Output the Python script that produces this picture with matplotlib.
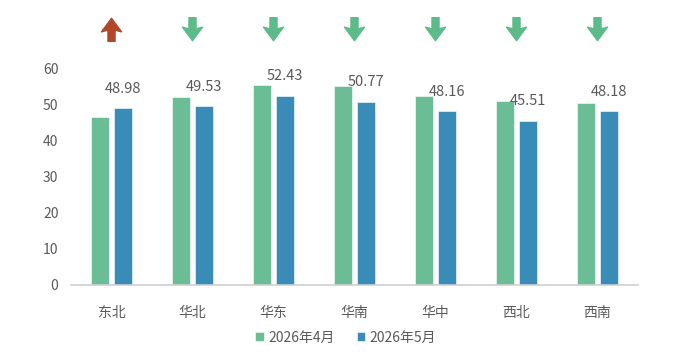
import numpy as np
import matplotlib
matplotlib.use('Agg')
from matplotlib import pyplot as plt
from matplotlib.path import Path

plt.rcParams['font.family'] = ['Noto Sans CJK SC', 'DejaVu Sans']

regions = ['东北', '华北', '华东', '华南', '华中', '西北', '西南']
apr = [46.6, 52.2, 55.5, 55.2, 52.4, 51.1, 50.5]
may = [48.98, 49.53, 52.43, 50.77, 48.16, 45.51, 48.18]
series_names = ['2026年4月', '2026年5月']

green = '#6BBD95'
blue = '#3A8CB8'
arrow_green = '#5DBB8A'
arrow_red = '#B0472B'
text_gray = '#595959'

# block arrow markers (wide head, narrow shaft)
up_arrow = Path([(-0.3, -1.0), (0.3, -1.0), (0.3, -0.05), (0.85, -0.2), (0, 0.95),
                 (-0.85, -0.2), (-0.3, -0.05), (-0.3, -1.0)],
                [Path.MOVETO] + [Path.LINETO] * 6 + [Path.CLOSEPOLY])
down_arrow = Path([(x, -y) for x, y in up_arrow.vertices], up_arrow.codes)

fig = plt.figure(figsize=(6.91, 3.57), dpi=100)
ax = fig.add_axes([0.1027, 0.2017, 0.8203, 0.6065])

x = np.arange(len(regions))
w = 0.22
off = 0.14
ax.bar(x - off, apr, w, color=green, edgecolor='white', linewidth=0.4, label=series_names[0])
ax.bar(x + off, may, w, color=blue, edgecolor='white', linewidth=0.4, label=series_names[1])

for xi, v in zip(x, may):
    ax.annotate(f'{v:.2f}', (xi + off, v), xytext=(0, 9), textcoords='offset points',
                ha='center', va='bottom', fontsize=10.5, color=text_gray)

# change arrows above each region
for xi, a, m in zip(x, apr, may):
    up = m > a
    ax.plot(xi, 70.9, marker=up_arrow if up else down_arrow, markersize=17,
            color=arrow_red if up else arrow_green, clip_on=False, linestyle='none')

ax.set_xlim(-0.5, len(regions) - 0.5)
ax.set_ylim(0, 60)
ax.set_yticks(range(0, 61, 10))
ax.set_xticks(x)
ax.set_xticklabels(regions)
ax.tick_params(axis='both', length=0, labelsize=10, colors=text_gray)
ax.tick_params(axis='x', pad=15)
ax.tick_params(axis='y', pad=9)
for s in ['left', 'right', 'top']:
    ax.spines[s].set_visible(False)
ax.spines['bottom'].set_color('#D0D0D0')
ax.spines['bottom'].set_linewidth(1.2)

fig.legend(loc='lower center', bbox_to_anchor=(0.5, 0.0), ncol=2, frameon=False,
           fontsize=10, handlelength=0.6, handleheight=0.6, handletextpad=0.3,
           columnspacing=1.6, labelcolor=text_gray)

fig.savefig('out.png', dpi=100)
